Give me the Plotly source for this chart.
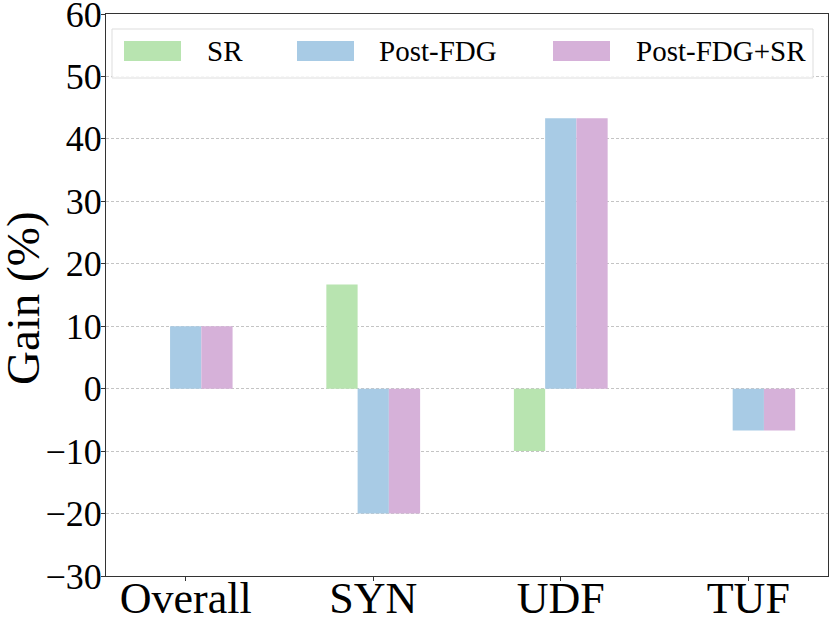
import plotly.graph_objects as go

categories = ["Overall", "SYN", "UDF", "TUF"]
series_names = ["SR", "Post-FDG", "Post-FDG+SR"]
sr_gain = [0, 16.7, -10.0, 0]
post_fdg_gain = [10.0, -20.0, 43.3, -6.7]
post_fdg_sr_gain = [10.0, -20.0, 43.3, -6.7]
y_ticks = [-30, -20, -10, 0, 10, 20, 30, 40, 50, 60]

colors = ["#b8e4b0", "#a8cbe5", "#d6b1d9"]
font_name = "Liberation Serif"

# plot area in pixels (830 x 623 window)
W, H = 830, 623
L, R, T, B = 106, 828, 14, 576


def px(x):
    return (x - L) / (R - L)


def py(y):
    return (B - y) / (B - T)


fig = go.Figure()
for name, vals, col in zip(series_names, [sr_gain, post_fdg_gain, post_fdg_sr_gain], colors):
    fig.add_trace(go.Bar(
        x=categories,
        y=vals,
        name=name,
        marker_color=col,
        marker_line_width=0,
        showlegend=False
    ))

# hand-made legend so the swatches are wide like the original
shapes = [dict(type="rect", xref="paper", yref="paper",
               x0=px(112), x1=px(813), y0=py(78), y1=py(29),
               line=dict(color="#dddddd", width=1), fillcolor="rgba(255,255,255,0.85)",
               layer="above")]
annotations = []
swatch_left = [124, 297, 553]
text_left = [205, 377, 634]
for name, col, sx, tx in zip(series_names, colors, swatch_left, text_left):
    shapes.append(dict(type="rect", xref="paper", yref="paper",
                       x0=px(sx), x1=px(sx + 57), y0=py(61), y1=py(41),
                       line_width=0, fillcolor=col, layer="above"))
    annotations.append(dict(x=px(tx), y=py(51), xref="paper", yref="paper",
                            text=name, showarrow=False, xanchor="left", yanchor="middle",
                            font=dict(family=font_name, size=29, color="black")))

annotations.append(dict(x=px(23), y=py(298), xref="paper", yref="paper",
                        text="Gain (%)", showarrow=False, textangle=-90,
                        xanchor="center", yanchor="middle",
                        font=dict(family=font_name, size=47, color="black")))

fig.update_layout(
    width=W, height=H,
    margin=dict(l=L, r=W - R, t=T, b=H - B),
    barmode="group",
    bargap=0.5,
    bargroupgap=0,
    plot_bgcolor="white",
    paper_bgcolor="white",
    font=dict(family=font_name, color="black"),
    shapes=shapes,
    annotations=annotations
)
fig.update_xaxes(
    range=[-0.425, 3.425],
    automargin=False,
    showline=True, linecolor="#333333", linewidth=1.2, mirror=True,
    ticks="outside", ticklen=4, tickcolor="#333333",
    tickfont=dict(family=font_name, size=44, color="black"),
    ticklabeloverflow="allow", ticklabelstandoff=-21,
    showgrid=False
)
fig.update_yaxes(
    range=[-30, 60],
    automargin=False,
    tickvals=y_ticks,
    showline=True, linecolor="#333333", linewidth=1.2, mirror=True,
    ticks="outside", ticklen=4, tickcolor="#333333",
    tickfont=dict(family=font_name, size=36, color="black"),
    ticklabeloverflow="allow", ticklabelstandoff=-8,
    showgrid=True, gridcolor="#c4c4c4", gridwidth=0.8, griddash="3px,2px",
    zeroline=False
)

# page body has a default 8px margin; drop it so the figure fills the window
fig.write_html("out.html", config={"displayModeBar": False},
               post_script="document.body.style.margin='0';")
